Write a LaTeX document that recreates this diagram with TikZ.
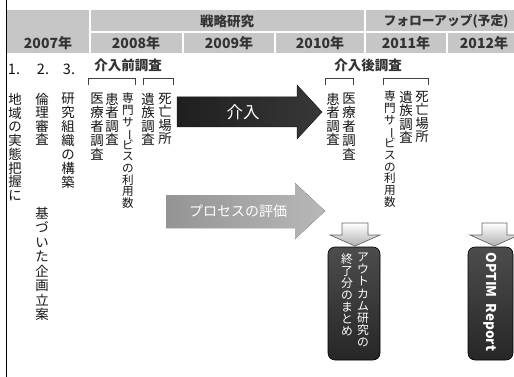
\documentclass[tikz,border=0pt]{standalone}
\usepackage{fontspec}
\usepackage{graphicx}
\setmainfont{Noto Sans CJK JP}
\usetikzlibrary{shadings}
\ExplSyntaxOn
\NewDocumentCommand\vtext{O{14pt}m}{
  \vbox{\baselineskip=#1\relax\lineskiplimit=-100pt\relax\lineskip=0pt\relax
    \tl_map_inline:nn {#2}{
      \hbox~to~1em{\hss\str_if_eq:nnTF{##1}{ー}{\rotatebox[origin=c]{-90}{ー}}{##1}\hss}
    }}
}
\ExplSyntaxOff
\definecolor{hdr}{HTML}{C6C6C6}
\definecolor{hdtext}{HTML}{333333}
\definecolor{body}{HTML}{151515}
\tikzset{
  hd/.style={inner sep=0pt, text=hdtext, font=\fontsize{14}{14}\selectfont\bfseries},
  sep/.style={draw=white, line width=1.3pt},
  vt/.style={anchor=north, inner sep=0pt, text=body, font=\fontsize{13.4}{14}\selectfont},
  vtdense/.style={vt, font=\fontsize{11.6}{12}\selectfont},
  num/.style={inner sep=0pt, text=body, font=\fontsize{14.5}{14}\selectfont},
  brk/.style={draw=black!75, line width=0.8pt},
  ttl/.style={inner sep=0pt, text=hdtext, font=\fontsize{13.5}{14}\selectfont\bfseries},
  darkarrow/.style={draw=black!90, line width=0.5pt, left color=black!88, right color=black!78},
  greyarrow/.style={draw=none, left color=black!42, right color=black!28},
  downarrow/.style={draw=black!60, line width=0.7pt, top color=white, bottom color=black!30},
  darkbox/.style={draw=black, line width=0.6pt, rounded corners=7pt, top color=black!70, bottom color=black!85},
  boxtext/.style={anchor=north, inner sep=0pt, text=white, font=\fontsize{11.8}{12}\selectfont},
}
\begin{document}
\begin{tikzpicture}[x=1pt,y=-1pt]
\useasboundingbox (0,0) rectangle (514,377);
\fill[white] (0,0) rectangle (514,377);
% header
\fill[hdr] (7,10) rectangle (514,53);
\draw[sep] (90,32) -- (514,32);
\draw[sep] (90,10) -- (90,53);
\draw[sep] (365,10) -- (365,53);
\draw[sep] (183,32) -- (183,53);
\draw[sep] (275,32) -- (275,53);
\draw[sep] (447,32) -- (447,53);
\draw[line width=1pt] (6,0) -- (6,377);
\node[hd] (y2007) at (48,43) {2007年};
\node[hd] (y2008) at (136,43) {2008年};
\node[hd] (y2009) at (229,43) {2009年};
\node[hd] (y2010) at (320,43) {2010年};
\node[hd] (y2011) at (406,43) {2011年};
\node[hd] (y2012) at (484,43) {2012年};
\node[hd, font=\fontsize{13.5}{14}\selectfont\bfseries] (senryaku) at (227,21) {戦略研究};
\node[hd, font=\fontsize{12.8}{14}\selectfont\bfseries] (follow) at (446,21) {フォローアップ(予定)};
% left items
\node[num] (n1) at (14,69) {1.};
\node[num] (n2) at (43,69) {2.};
\node[num] (n3) at (69,69) {3.};
\node[vt] (t1) at (15,93) {\vtext[13.75pt]{地域の実態把握に}};
\node[vt] (t2) at (42,93) {\vtext[13.5pt]{倫理審査}};
\node[vt] (t2b) at (42,207) {\vtext[14.5pt]{基づいた企画立案}};
\node[vt] (t3) at (68,93) {\vtext[13.9pt]{研究組織の構築}};
% pre-intervention survey
\node[ttl] (pre) at (128,65) {介入前調査};
\draw[brk] (88,85) -- (88,78) -- (135,78) -- (135,85);
\draw[brk] (143,85) -- (143,78) -- (173,78) -- (173,85);
\node[vt] (p1) at (97,93) {\vtext[14pt]{医療者調査}};
\node[vt] (p2) at (112,93) {\vtext[13.5pt]{患者調査}};
\node[vtdense] (p3) at (128,93) {\vtext[11.6pt]{専門サービスの利用数}};
\node[vt] (p4) at (148,93) {\vtext[13.5pt]{遺族調査}};
\node[vt] (p5) at (165,93) {\vtext[13.5pt]{死亡場所}};
% post-intervention survey
\node[ttl] (post) at (368,65) {介入後調査};
\draw[brk] (325,85) -- (325,78) -- (353,78) -- (353,85);
\draw[brk] (383,85) -- (383,78) -- (428,78) -- (428,85);
\node[vt] (q2) at (333,93) {\vtext[13.5pt]{患者調査}};
\node[vt] (q1) at (349,93) {\vtext[14pt]{医療者調査}};
\node[vtdense] (q3) at (390,91) {\vtext[11.7pt]{専門サービスの利用数}};
\node[vt] (q4) at (406,91) {\vtext[13.5pt]{遺族調査}};
\node[vt] (q5) at (422,91) {\vtext[13.5pt]{死亡場所}};
% big arrows
\draw[darkarrow] (177,97) -- (297,97) -- (297,85) -- (322,112) -- (297,139) -- (297,127) -- (177,127) -- cycle;
\node[inner sep=0pt, text=white, font=\fontsize{16.5}{16}\selectfont] (kainyu) at (243,112) {介入};
\fill[greyarrow] (166,195) -- (295,195) -- (295,183) -- (325,211) -- (295,239) -- (295,228) -- (166,228) -- cycle;
\node[inner sep=0pt, text=white, font=\fontsize{14}{14}\selectfont] (process) at (238,211) {プロセスの評価};
% small down arrows
\draw[downarrow] (342,223) -- (368,223) -- (368,235) -- (380,235) -- (355,246) -- (330,235) -- (342,235) -- cycle;
\draw[downarrow] (482,223) -- (507,223) -- (507,235) -- (519,235) -- (494.5,246) -- (470,235) -- (482,235) -- cycle;
% result boxes
\draw[darkbox] (328,247) rectangle (380,360);
\draw[darkbox] (468,247) rectangle (513,360);
\node[boxtext] (o1) at (363,253) {\vtext[12.1pt]{アウトカム研究の}};
\node[boxtext] (o2) at (347,253) {\vtext[12.1pt]{終了分のまとめ}};
\node[inner sep=0pt, text=white, rotate=-90, font=\fontsize{13.5}{14}\selectfont\bfseries] (optim) at (490,302) {OPTIM\ \ Report};
\end{tikzpicture}
\end{document}
